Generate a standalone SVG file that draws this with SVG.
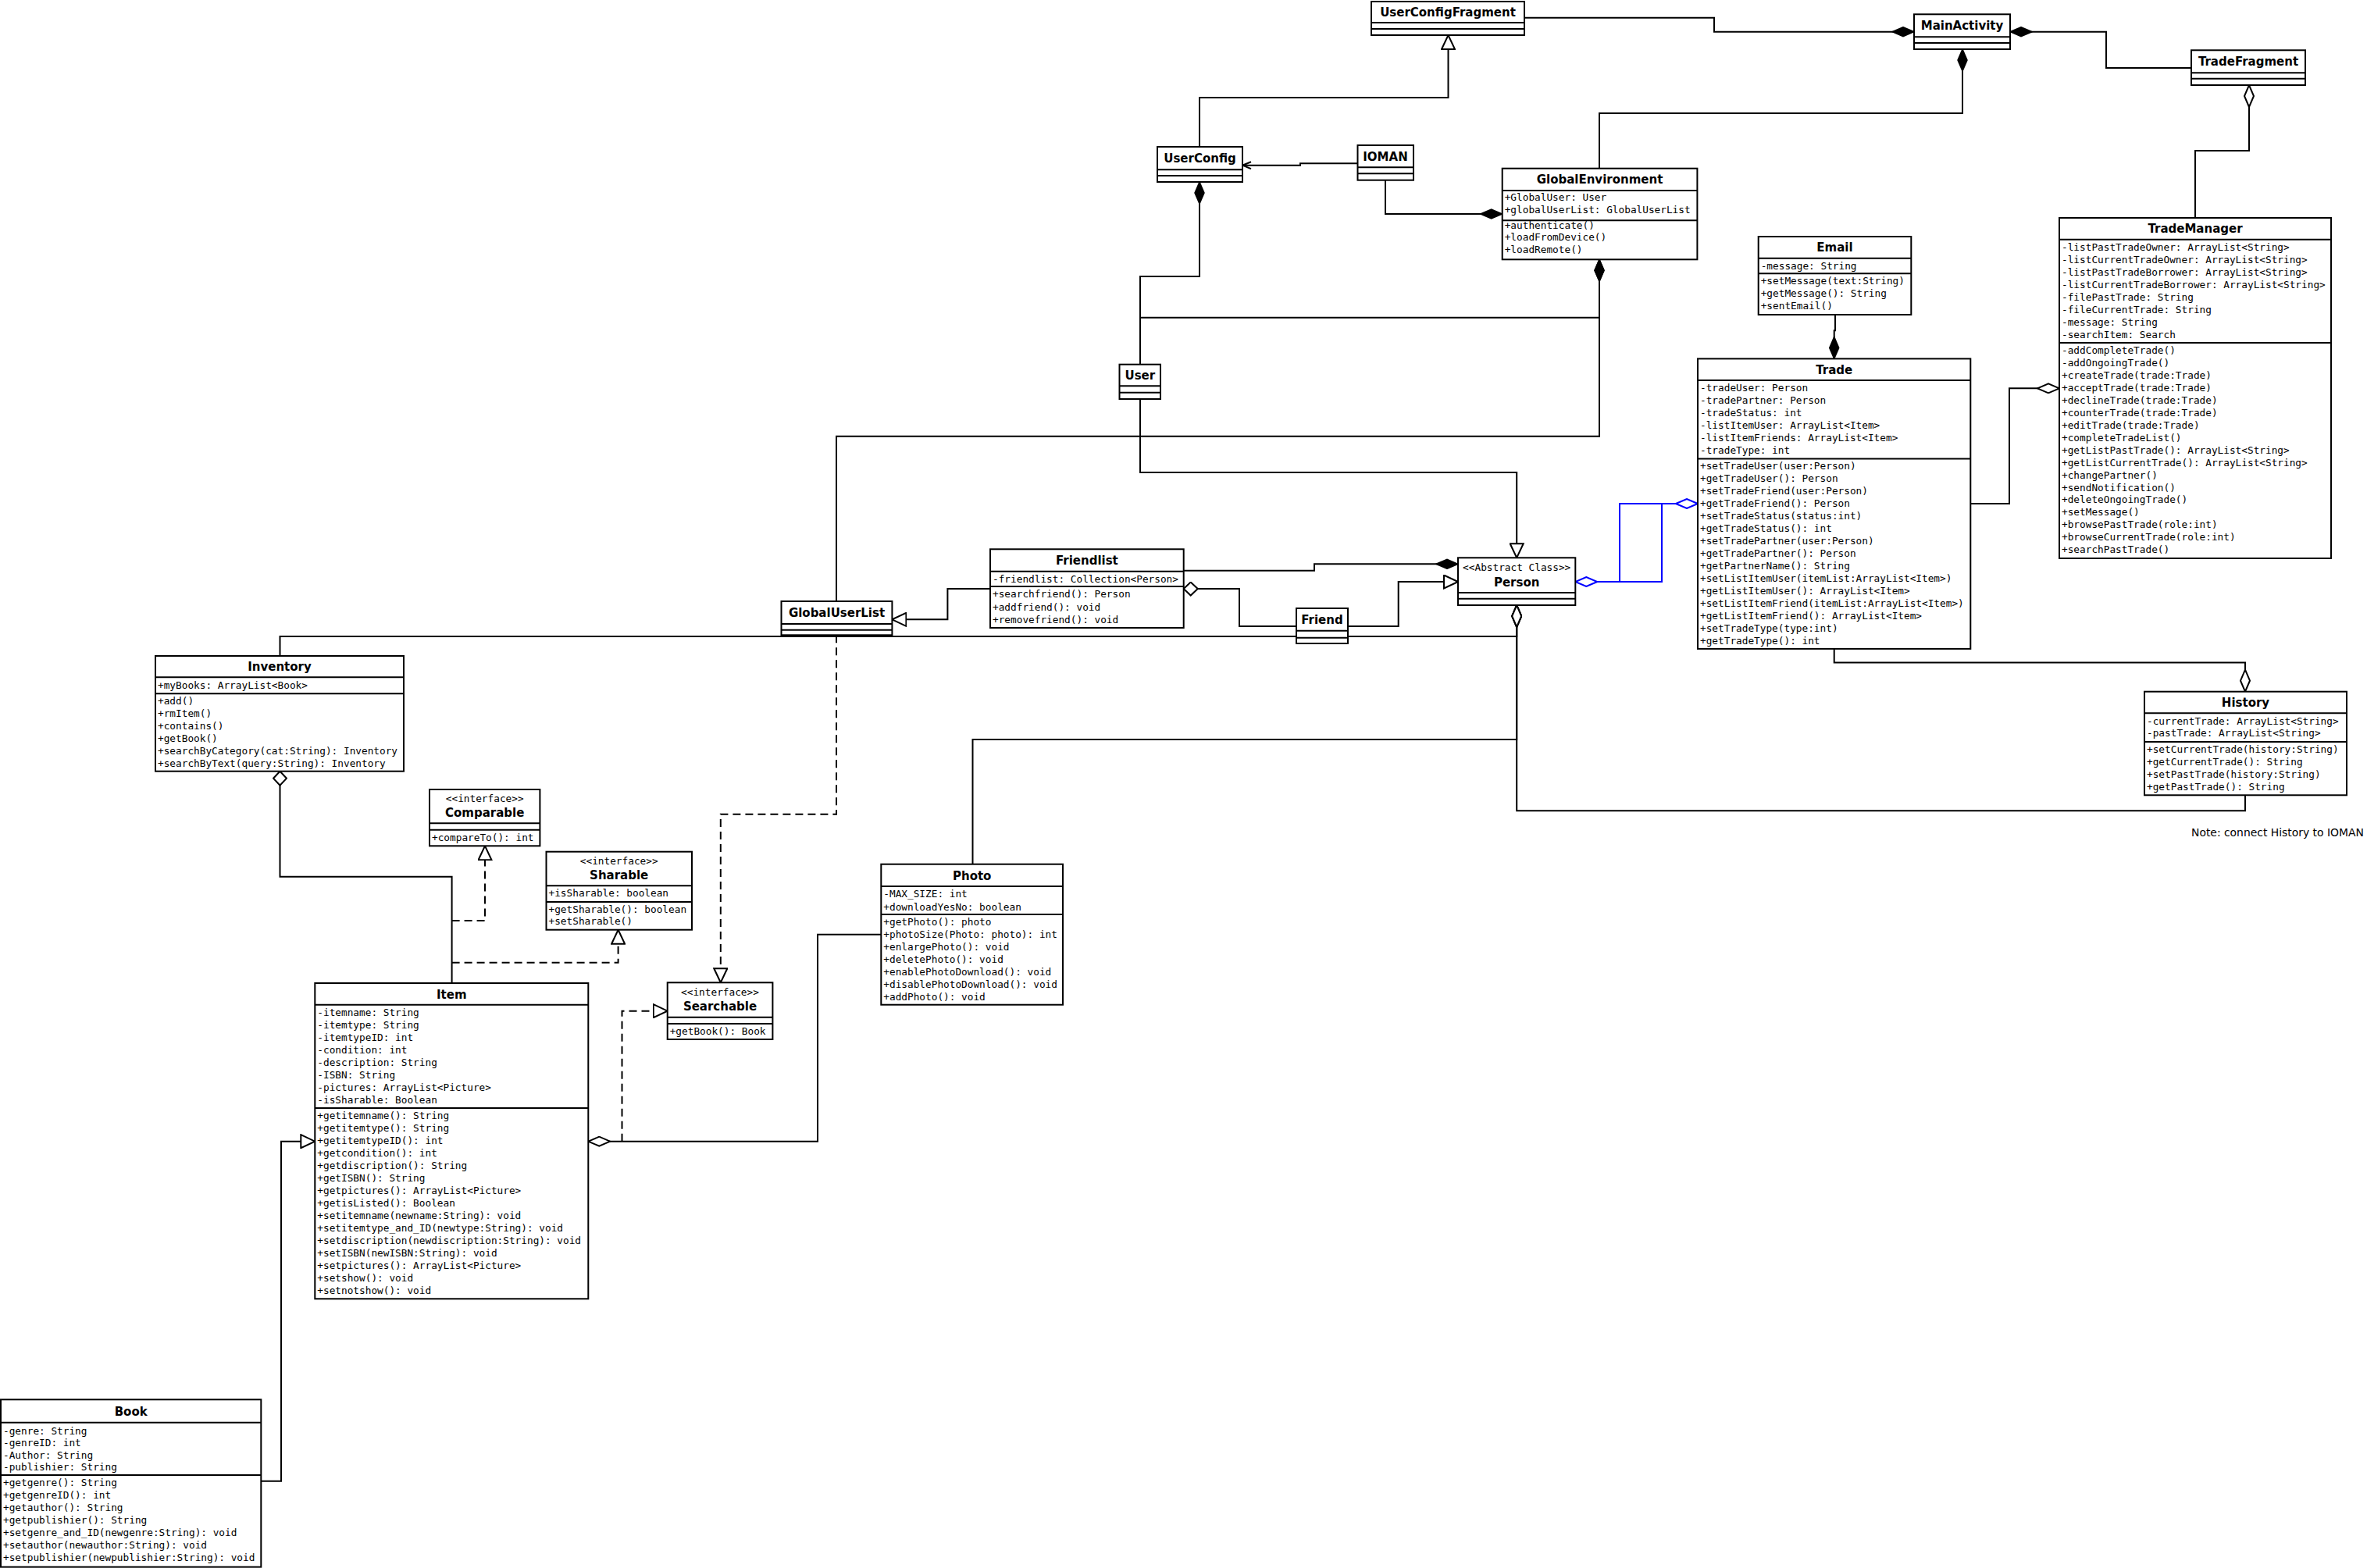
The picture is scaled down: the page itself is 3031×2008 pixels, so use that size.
<svg xmlns="http://www.w3.org/2000/svg" width="3031" height="2008" viewBox="0 0 3031 2008">
<style>
.bg{fill:#fff}
.box{fill:#fff;stroke:#000;stroke-width:2}
.sep{stroke:#000;stroke-width:2}
.title{font-family:"DejaVu Sans",sans-serif;font-weight:bold;font-size:15px;text-anchor:middle;fill:#000}
.m{font-family:"DejaVu Sans Mono",monospace;font-size:12.75px;fill:#000}
.st{font-family:"DejaVu Sans Mono",monospace;font-size:12.75px;text-anchor:middle;fill:#000}
.note{font-family:"DejaVu Sans",sans-serif;font-size:13.9px;fill:#000}
.c{fill:none;stroke:#000;stroke-width:2}
.d{stroke-dasharray:10 6}
.b{stroke:#00f}
</style>
<defs>
<marker id="dF" markerUnits="userSpaceOnUse" markerWidth="30" markerHeight="14" viewBox="-1 -1 30 14" refX="28" refY="6" orient="auto"><path d="M0,6 L14,0 L28,6 L14,12 Z" fill="#000" stroke="#000" stroke-width="1.5"/></marker>
<marker id="dH" markerUnits="userSpaceOnUse" markerWidth="30" markerHeight="14" viewBox="-1 -1 30 14" refX="28" refY="6" orient="auto"><path d="M0,6 L14,0 L28,6 L14,12 Z" fill="#fff" stroke="#000" stroke-width="2"/></marker>
<marker id="dH2" markerUnits="userSpaceOnUse" markerWidth="20" markerHeight="19" viewBox="-1 -1 20 19" refX="18" refY="8.5" orient="auto"><path d="M0,8.5 L9,0 L18,8.5 L9,17 Z" fill="#fff" stroke="#000" stroke-width="2"/></marker>
<marker id="dB" markerUnits="userSpaceOnUse" markerWidth="30" markerHeight="14" viewBox="-1 -1 30 14" refX="28" refY="6" orient="auto"><path d="M0,6 L14,0 L28,6 L14,12 Z" fill="#fff" stroke="#00f" stroke-width="2"/></marker>
<marker id="tri" markerUnits="userSpaceOnUse" markerWidth="20" markerHeight="19" viewBox="-1 -1 20 19" refX="18" refY="8.5" orient="auto"><path d="M0,0 L18,8.5 L0,17 Z" fill="#fff" stroke="#000" stroke-width="2"/></marker>
<marker id="arr" markerUnits="userSpaceOnUse" markerWidth="13" markerHeight="11" viewBox="-1 -1 13 11" refX="11" refY="4.5" orient="auto"><path d="M0,0 L11,4.5 L0,9" fill="none" stroke="#000" stroke-width="2"/></marker>
</defs>
<rect class="bg" x="0" y="0" width="3031" height="2008"/>
<g id="connectors">
<path class="c" d="M1952,22.7 H2195 V40.7 H2451" marker-end="url(#dF)"/>
<path class="c" d="M2806,87 H2697 V40.7 H2574" marker-end="url(#dF)"/>
<path class="c" d="M2048,215.7 V145 H2513 V63" marker-end="url(#dF)"/>
<path class="c" d="M1536,188 V125 H1854.5 V45" marker-end="url(#tri)"/>
<path class="c" d="M1738.5,209.3 H1665 V211.7 H1591" marker-end="url(#arr)"/>
<path class="c" d="M1774,230.7 V274 H1923.7" marker-end="url(#dF)"/>
<path class="c" d="M1460,466.7 V354 H1536 V233" marker-end="url(#dF)"/>
<path class="c" d="M1460,406.7 H2048 V332.3" marker-end="url(#dF)"/>
<path class="c" d="M1071,770 V558.7 H2048 V332.3" marker-end="url(#dF)"/>
<path class="c" d="M1460,511 V605 H1942.2 V714.3" marker-end="url(#tri)"/>
<path class="c" d="M1515.7,730.7 H1683 V722.3 H1867" marker-end="url(#dF)"/>
<path class="c" d="M1268,754 H1213.4 V793.3 H1142.4" marker-end="url(#tri)"/>
<path class="c" d="M1660,802 H1587 V754 H1515.7" marker-end="url(#dH2)"/>
<path class="c" d="M1726,802 H1790.7 V745 H1867" marker-end="url(#tri)"/>
<path class="c" d="M358.5,840 V815 H1942.2 V775" marker-end="url(#dH)"/>
<path class="c" d="M1245.5,1106.7 V947 H1942.2 V775" marker-end="url(#dH)"/>
<path class="c" d="M2875,1018.3 V1038.3 H1942.2 V775" marker-end="url(#dH)"/>
<path class="c" d="M578.6,1259 V1122.7 H358.5 V987.7" marker-end="url(#dH2)"/>
<path class="c d" d="M578.6,1179 H621 V1083.3" marker-end="url(#tri)"/>
<path class="c d" d="M578.6,1232.7 H791.6 V1190.7" marker-end="url(#tri)"/>
<path class="c d" d="M796.5,1461.7 V1294.7 H854.7" marker-end="url(#tri)"/>
<path class="c" d="M1128.3,1196.7 H1047 V1461.7 H753.3" marker-end="url(#dH)"/>
<path class="c" d="M334.3,1896.7 H360 V1461.7 H403.3" marker-end="url(#tri)"/>
<path class="c d" d="M1071,813.3 V1042.7 H922.8 V1258.3" marker-end="url(#tri)"/>
<path class="c" d="M2350,403 V423.3 H2348.7 V459.4" marker-end="url(#dF)"/>
<path class="c" d="M2523.3,645 H2573 V497.3 H2637" marker-end="url(#dH)"/>
<path class="c" d="M2811,279 V193 H2880 V109" marker-end="url(#dH)"/>
<path class="c" d="M2348.7,830.9 V848.6 H2875 V885.7" marker-end="url(#dH)"/>
<path class="c b" d="M2146,645 H2074 V745 H2017.3" marker-end="url(#dB)"/>
<path class="c b" d="M2045.3,745 H2128 V645 H2174" marker-end="url(#dB)"/>
</g>
<g id="UserConfigFragment"><rect class="box" x="1756" y="2" width="196" height="43"/><line class="sep" x1="1756" y1="29" x2="1952" y2="29"/><line class="sep" x1="1756" y1="37" x2="1952" y2="37"/><text class="title" x="1854" y="21">UserConfigFragment</text></g>
<g id="MainActivity"><rect class="box" x="2451" y="18.3" width="123" height="44.7"/><line class="sep" x1="2451" y1="47.3" x2="2574" y2="47.3"/><line class="sep" x1="2451" y1="55" x2="2574" y2="55"/><text class="title" x="2512.5" y="38.3">MainActivity</text></g>
<g id="TradeFragment"><rect class="box" x="2806" y="64.3" width="146" height="44.7"/><line class="sep" x1="2806" y1="93.3" x2="2952" y2="93.3"/><line class="sep" x1="2806" y1="100.7" x2="2952" y2="100.7"/><text class="title" x="2879" y="84.3">TradeFragment</text></g>
<g id="UserConfig"><rect class="box" x="1482" y="188" width="109" height="45"/><line class="sep" x1="1482" y1="217.3" x2="1591" y2="217.3"/><line class="sep" x1="1482" y1="225" x2="1591" y2="225"/><text class="title" x="1536.5" y="208">UserConfig</text></g>
<g id="IOMAN"><rect class="box" x="1738.5" y="186" width="71.5" height="44.7"/><line class="sep" x1="1738.5" y1="214.3" x2="1810" y2="214.3"/><line class="sep" x1="1738.5" y1="222.3" x2="1810" y2="222.3"/><text class="title" x="1774" y="205.7">IOMAN</text></g>
<g id="GlobalEnvironment"><rect class="box" x="1923.7" y="215.7" width="249.7" height="116.6"/><line class="sep" x1="1923.7" y1="244" x2="2173.4" y2="244"/><line class="sep" x1="1923.7" y1="282.3" x2="2173.4" y2="282.3"/><text class="title" x="2048.5" y="235.3">GlobalEnvironment</text>
<text class="m" x="1926.7" y="257.3">+GlobalUser: User</text><text class="m" x="1926.7" y="273.3">+globalUserList: GlobalUserList</text>
<text class="m" x="1926.7" y="292.5">+authenticate()</text><text class="m" x="1926.7" y="308.3">+loadFromDevice()</text><text class="m" x="1926.7" y="324">+loadRemote()</text></g>
<g id="TradeManager"><rect class="box" x="2637" y="279" width="348" height="436"/><line class="sep" x1="2637" y1="306.7" x2="2985" y2="306.7"/><line class="sep" x1="2637" y1="439" x2="2985" y2="439"/><text class="title" x="2811" y="298.3">TradeManager</text>
<text class="m" x="2640" y="320.5">-listPastTradeOwner: ArrayList&lt;String&gt;</text>
<text class="m" x="2640" y="336.6">-listCurrentTradeOwner: ArrayList&lt;String&gt;</text>
<text class="m" x="2640" y="352.7">-listPastTradeBorrower: ArrayList&lt;String&gt;</text>
<text class="m" x="2640" y="368.8">-listCurrentTradeBorrower: ArrayList&lt;String&gt;</text>
<text class="m" x="2640" y="384.9">-filePastTrade: String</text>
<text class="m" x="2640" y="401">-fileCurrentTrade: String</text>
<text class="m" x="2640" y="417.1">-message: String</text>
<text class="m" x="2640" y="433.2">-searchItem: Search</text>
<text class="m" x="2640" y="452.9">-addCompleteTrade()</text>
<text class="m" x="2640" y="468.9">-addOngoingTrade()</text>
<text class="m" x="2640" y="484.8">+createTrade(trade:Trade)</text>
<text class="m" x="2640" y="500.8">+acceptTrade(trade:Trade)</text>
<text class="m" x="2640" y="516.7">+declineTrade(trade:Trade)</text>
<text class="m" x="2640" y="532.7">+counterTrade(trade:Trade)</text>
<text class="m" x="2640" y="548.7">+editTrade(trade:Trade)</text>
<text class="m" x="2640" y="564.6">+completeTradeList()</text>
<text class="m" x="2640" y="580.6">+getListPastTrade(): ArrayList&lt;String&gt;</text>
<text class="m" x="2640" y="596.5">+getListCurrentTrade(): ArrayList&lt;String&gt;</text>
<text class="m" x="2640" y="612.5">+changePartner()</text>
<text class="m" x="2640" y="628.5">+sendNotification()</text>
<text class="m" x="2640" y="644.4">+deleteOngoingTrade()</text>
<text class="m" x="2640" y="660.4">+setMessage()</text>
<text class="m" x="2640" y="676.3">+browsePastTrade(role:int)</text>
<text class="m" x="2640" y="692.3">+browseCurrentTrade(role:int)</text>
<text class="m" x="2640" y="708.2">+searchPastTrade()</text></g>
<g id="Email"><rect class="box" x="2251.7" y="303" width="195.6" height="100"/><line class="sep" x1="2251.7" y1="330.7" x2="2447.3" y2="330.7"/><line class="sep" x1="2251.7" y1="350.3" x2="2447.3" y2="350.3"/><text class="title" x="2349.5" y="322.4">Email</text>
<text class="m" x="2254.7" y="345">-message: String</text>
<text class="m" x="2254.7" y="364.2">+setMessage(text:String)</text>
<text class="m" x="2254.7" y="380.3">+getMessage(): String</text>
<text class="m" x="2254.7" y="396.4">+sentEmail()</text></g>
<g id="Trade"><rect class="box" x="2174" y="459.4" width="349.3" height="371.5"/><line class="sep" x1="2174" y1="487.1" x2="2523.3" y2="487.1"/><line class="sep" x1="2174" y1="587.4" x2="2523.3" y2="587.4"/><text class="title" x="2348.7" y="478.8">Trade</text>
<text class="m" x="2177" y="501.4">-tradeUser: Person</text>
<text class="m" x="2177" y="517.3">-tradePartner: Person</text>
<text class="m" x="2177" y="533.2">-tradeStatus: int</text>
<text class="m" x="2177" y="549.1">-listItemUser: ArrayList&lt;Item&gt;</text>
<text class="m" x="2177" y="565">-listItemFriends: ArrayList&lt;Item&gt;</text>
<text class="m" x="2177" y="580.9">-tradeType: int</text>
<text class="m" x="2177" y="600.7">+setTradeUser(user:Person)</text>
<text class="m" x="2177" y="616.7">+getTradeUser(): Person</text>
<text class="m" x="2177" y="632.7">+setTradeFriend(user:Person)</text>
<text class="m" x="2177" y="648.7">+getTradeFriend(): Person</text>
<text class="m" x="2177" y="664.7">+setTradeStatus(status:int)</text>
<text class="m" x="2177" y="680.7">+getTradeStatus(): int</text>
<text class="m" x="2177" y="696.7">+setTradePartner(user:Person)</text>
<text class="m" x="2177" y="712.7">+getTradePartner(): Person</text>
<text class="m" x="2177" y="728.7">+getPartnerName(): String</text>
<text class="m" x="2177" y="744.7">+setListItemUser(itemList:ArrayList&lt;Item&gt;)</text>
<text class="m" x="2177" y="760.7">+getListItemUser(): ArrayList&lt;Item&gt;</text>
<text class="m" x="2177" y="776.7">+setListItemFriend(itemList:ArrayList&lt;Item&gt;)</text>
<text class="m" x="2177" y="792.7">+getListItemFriend(): ArrayList&lt;Item&gt;</text>
<text class="m" x="2177" y="808.7">+setTradeType(type:int)</text>
<text class="m" x="2177" y="824.7">+getTradeType(): int</text></g>
<g id="History"><rect class="box" x="2746" y="885.7" width="259" height="132.6"/><line class="sep" x1="2746" y1="913.3" x2="3005" y2="913.3"/><line class="sep" x1="2746" y1="950" x2="3005" y2="950"/><text class="title" x="2875.5" y="905">History</text>
<text class="m" x="2749" y="927.5">-currentTrade: ArrayList&lt;String&gt;</text>
<text class="m" x="2749" y="943.2">-pastTrade: ArrayList&lt;String&gt;</text>
<text class="m" x="2749" y="964.3">+setCurrentTrade(history:String)</text>
<text class="m" x="2749" y="980.3">+getCurrentTrade(): String</text>
<text class="m" x="2749" y="996">+setPastTrade(history:String)</text>
<text class="m" x="2749" y="1011.6">+getPastTrade(): String</text></g>
<text id="note" class="note" x="2806" y="1071">Note: connect History to IOMAN</text>
<g id="Person"><rect class="box" x="1867" y="714.3" width="150.3" height="60.7"/><line class="sep" x1="1867" y1="759" x2="2017.3" y2="759"/><line class="sep" x1="1867" y1="766.7" x2="2017.3" y2="766.7"/><text class="st" x="1942.2" y="730.5">&lt;&lt;Abstract Class&gt;&gt;</text><text class="title" x="1942.2" y="750.5">Person</text></g>
<g id="Friendlist"><rect class="box" x="1268" y="703.3" width="247.7" height="100.7"/><line class="sep" x1="1268" y1="731.7" x2="1515.7" y2="731.7"/><line class="sep" x1="1268" y1="751" x2="1515.7" y2="751"/><text class="title" x="1391.9" y="723">Friendlist</text>
<text class="m" x="1271" y="745.9">-friendlist: Collection&lt;Person&gt;</text>
<text class="m" x="1271" y="765.2">+searchfriend(): Person</text>
<text class="m" x="1271" y="781.9">+addfriend(): void</text>
<text class="m" x="1271" y="797.5">+removefriend(): void</text></g>
<g id="GlobalUserList"><rect class="box" x="1000.5" y="770" width="141.9" height="43.3"/><line class="sep" x1="1000.5" y1="799" x2="1142.4" y2="799"/><line class="sep" x1="1000.5" y1="806.7" x2="1142.4" y2="806.7"/><text class="title" x="1071.5" y="790">GlobalUserList</text></g>
<g id="Friend"><rect class="box" x="1660" y="779" width="66" height="45"/><line class="sep" x1="1660" y1="807.7" x2="1726" y2="807.7"/><line class="sep" x1="1660" y1="816.7" x2="1726" y2="816.7"/><text class="title" x="1693" y="798.8">Friend</text></g>
<g id="User"><rect class="box" x="1433.5" y="466.7" width="52.5" height="44.3"/><line class="sep" x1="1433.5" y1="494.3" x2="1486" y2="494.3"/><line class="sep" x1="1433.5" y1="502.7" x2="1486" y2="502.7"/><text class="title" x="1459.8" y="486">User</text></g>
<g id="Inventory"><rect class="box" x="199" y="840" width="318" height="147.7"/><line class="sep" x1="199" y1="867.3" x2="517" y2="867.3"/><line class="sep" x1="199" y1="888.3" x2="517" y2="888.3"/><text class="title" x="358" y="859.2">Inventory</text>
<text class="m" x="202" y="882">+myBooks: ArrayList&lt;Book&gt;</text>
<text class="m" x="202" y="901.5">+add()</text>
<text class="m" x="202" y="917.5">+rmItem()</text>
<text class="m" x="202" y="933.5">+contains()</text>
<text class="m" x="202" y="949.5">+getBook()</text>
<text class="m" x="202" y="965.7">+searchByCategory(cat:String): Inventory</text>
<text class="m" x="202" y="981.8">+searchByText(query:String): Inventory</text></g>
<g id="Comparable"><rect class="box" x="550" y="1011" width="141.4" height="72.3"/><line class="sep" x1="550" y1="1054.3" x2="691.4" y2="1054.3"/><line class="sep" x1="550" y1="1062.7" x2="691.4" y2="1062.7"/><text class="st" x="620.7" y="1026.5">&lt;&lt;interface&gt;&gt;</text><text class="title" x="620.7" y="1045.5">Comparable</text>
<text class="m" x="553" y="1077">+compareTo(): int</text></g>
<g id="Sharable"><rect class="box" x="699.5" y="1090.7" width="186.5" height="100"/><line class="sep" x1="699.5" y1="1134.3" x2="886" y2="1134.3"/><line class="sep" x1="699.5" y1="1155" x2="886" y2="1155"/><text class="st" x="792.7" y="1107">&lt;&lt;interface&gt;&gt;</text><text class="title" x="792.7" y="1125.5">Sharable</text>
<text class="m" x="702.5" y="1148.3">+isSharable: boolean</text>
<text class="m" x="702.5" y="1168.6">+getSharable(): boolean</text>
<text class="m" x="702.5" y="1184.3">+setSharable()</text></g>
<g id="Searchable"><rect class="box" x="854.7" y="1258.3" width="134.7" height="72.7"/><line class="sep" x1="854.7" y1="1302.7" x2="989.4" y2="1302.7"/><line class="sep" x1="854.7" y1="1311" x2="989.4" y2="1311"/><text class="st" x="922" y="1275">&lt;&lt;interface&gt;&gt;</text><text class="title" x="922" y="1293.8">Searchable</text>
<text class="m" x="857.7" y="1325.3">+getBook(): Book</text></g>
<g id="Photo"><rect class="box" x="1128.3" y="1106.7" width="232.7" height="180"/><line class="sep" x1="1128.3" y1="1135" x2="1361" y2="1135"/><line class="sep" x1="1128.3" y1="1171" x2="1361" y2="1171"/><text class="title" x="1244.7" y="1127.2">Photo</text>
<text class="m" x="1131.3" y="1149.3">-MAX_SIZE: int</text>
<text class="m" x="1131.3" y="1166">+downloadYesNo: boolean</text>
<text class="m" x="1131.3" y="1185.3">+getPhoto(): photo</text>
<text class="m" x="1131.3" y="1201.3">+photoSize(Photo: photo): int</text>
<text class="m" x="1131.3" y="1217.3">+enlargePhoto(): void</text>
<text class="m" x="1131.3" y="1233.3">+deletePhoto(): void</text>
<text class="m" x="1131.3" y="1249.3">+enablePhotoDownload(): void</text>
<text class="m" x="1131.3" y="1265.3">+disablePhotoDownload(): void</text>
<text class="m" x="1131.3" y="1281">+addPhoto(): void</text></g>
<g id="Item"><rect class="box" x="403.3" y="1259" width="350" height="404.3"/><line class="sep" x1="403.3" y1="1286.7" x2="753.3" y2="1286.7"/><line class="sep" x1="403.3" y1="1419" x2="753.3" y2="1419"/><text class="title" x="578.3" y="1278.5">Item</text>
<text class="m" x="406.3" y="1301">-itemname: String</text>
<text class="m" x="406.3" y="1317">-itemtype: String</text>
<text class="m" x="406.3" y="1333">-itemtypeID: int</text>
<text class="m" x="406.3" y="1349">-condition: int</text>
<text class="m" x="406.3" y="1365">-description: String</text>
<text class="m" x="406.3" y="1381">-ISBN: String</text>
<text class="m" x="406.3" y="1397">-pictures: ArrayList&lt;Picture&gt;</text>
<text class="m" x="406.3" y="1413">-isSharable: Boolean</text>
<text class="m" x="406.3" y="1433">+getitemname(): String</text>
<text class="m" x="406.3" y="1449">+getitemtype(): String</text>
<text class="m" x="406.3" y="1465">+getitemtypeID(): int</text>
<text class="m" x="406.3" y="1481">+getcondition(): int</text>
<text class="m" x="406.3" y="1497">+getdiscription(): String</text>
<text class="m" x="406.3" y="1513">+getISBN(): String</text>
<text class="m" x="406.3" y="1529">+getpictures(): ArrayList&lt;Picture&gt;</text>
<text class="m" x="406.3" y="1545">+getisListed(): Boolean</text>
<text class="m" x="406.3" y="1561">+setitemname(newname:String): void</text>
<text class="m" x="406.3" y="1577">+setitemtype_and_ID(newtype:String): void</text>
<text class="m" x="406.3" y="1593">+setdiscription(newdiscription:String): void</text>
<text class="m" x="406.3" y="1609">+setISBN(newISBN:String): void</text>
<text class="m" x="406.3" y="1625">+setpictures(): ArrayList&lt;Picture&gt;</text>
<text class="m" x="406.3" y="1641">+setshow(): void</text>
<text class="m" x="406.3" y="1657">+setnotshow(): void</text></g>
<g id="Book"><rect class="box" x="1" y="1792.3" width="333.3" height="214.4"/><line class="sep" x1="1" y1="1821.7" x2="334.3" y2="1821.7"/><line class="sep" x1="1" y1="1889" x2="334.3" y2="1889"/><text class="title" x="167.7" y="1812.5">Book</text>
<text class="m" x="4" y="1836.5">-genre: String</text>
<text class="m" x="4" y="1852">-genreID: int</text>
<text class="m" x="4" y="1867.6">-Author: String</text>
<text class="m" x="4" y="1883.3">-publishier: String</text>
<text class="m" x="4" y="1903.3">+getgenre(): String</text>
<text class="m" x="4" y="1919.3">+getgenreID(): int</text>
<text class="m" x="4" y="1935">+getauthor(): String</text>
<text class="m" x="4" y="1951">+getpublishier(): String</text>
<text class="m" x="4" y="1967">+setgenre_and_ID(newgenre:String): void</text>
<text class="m" x="4" y="1983.3">+setauthor(newauthor:String): void</text>
<text class="m" x="4" y="1999.3">+setpublishier(newpublishier:String): void</text></g>
</svg>
